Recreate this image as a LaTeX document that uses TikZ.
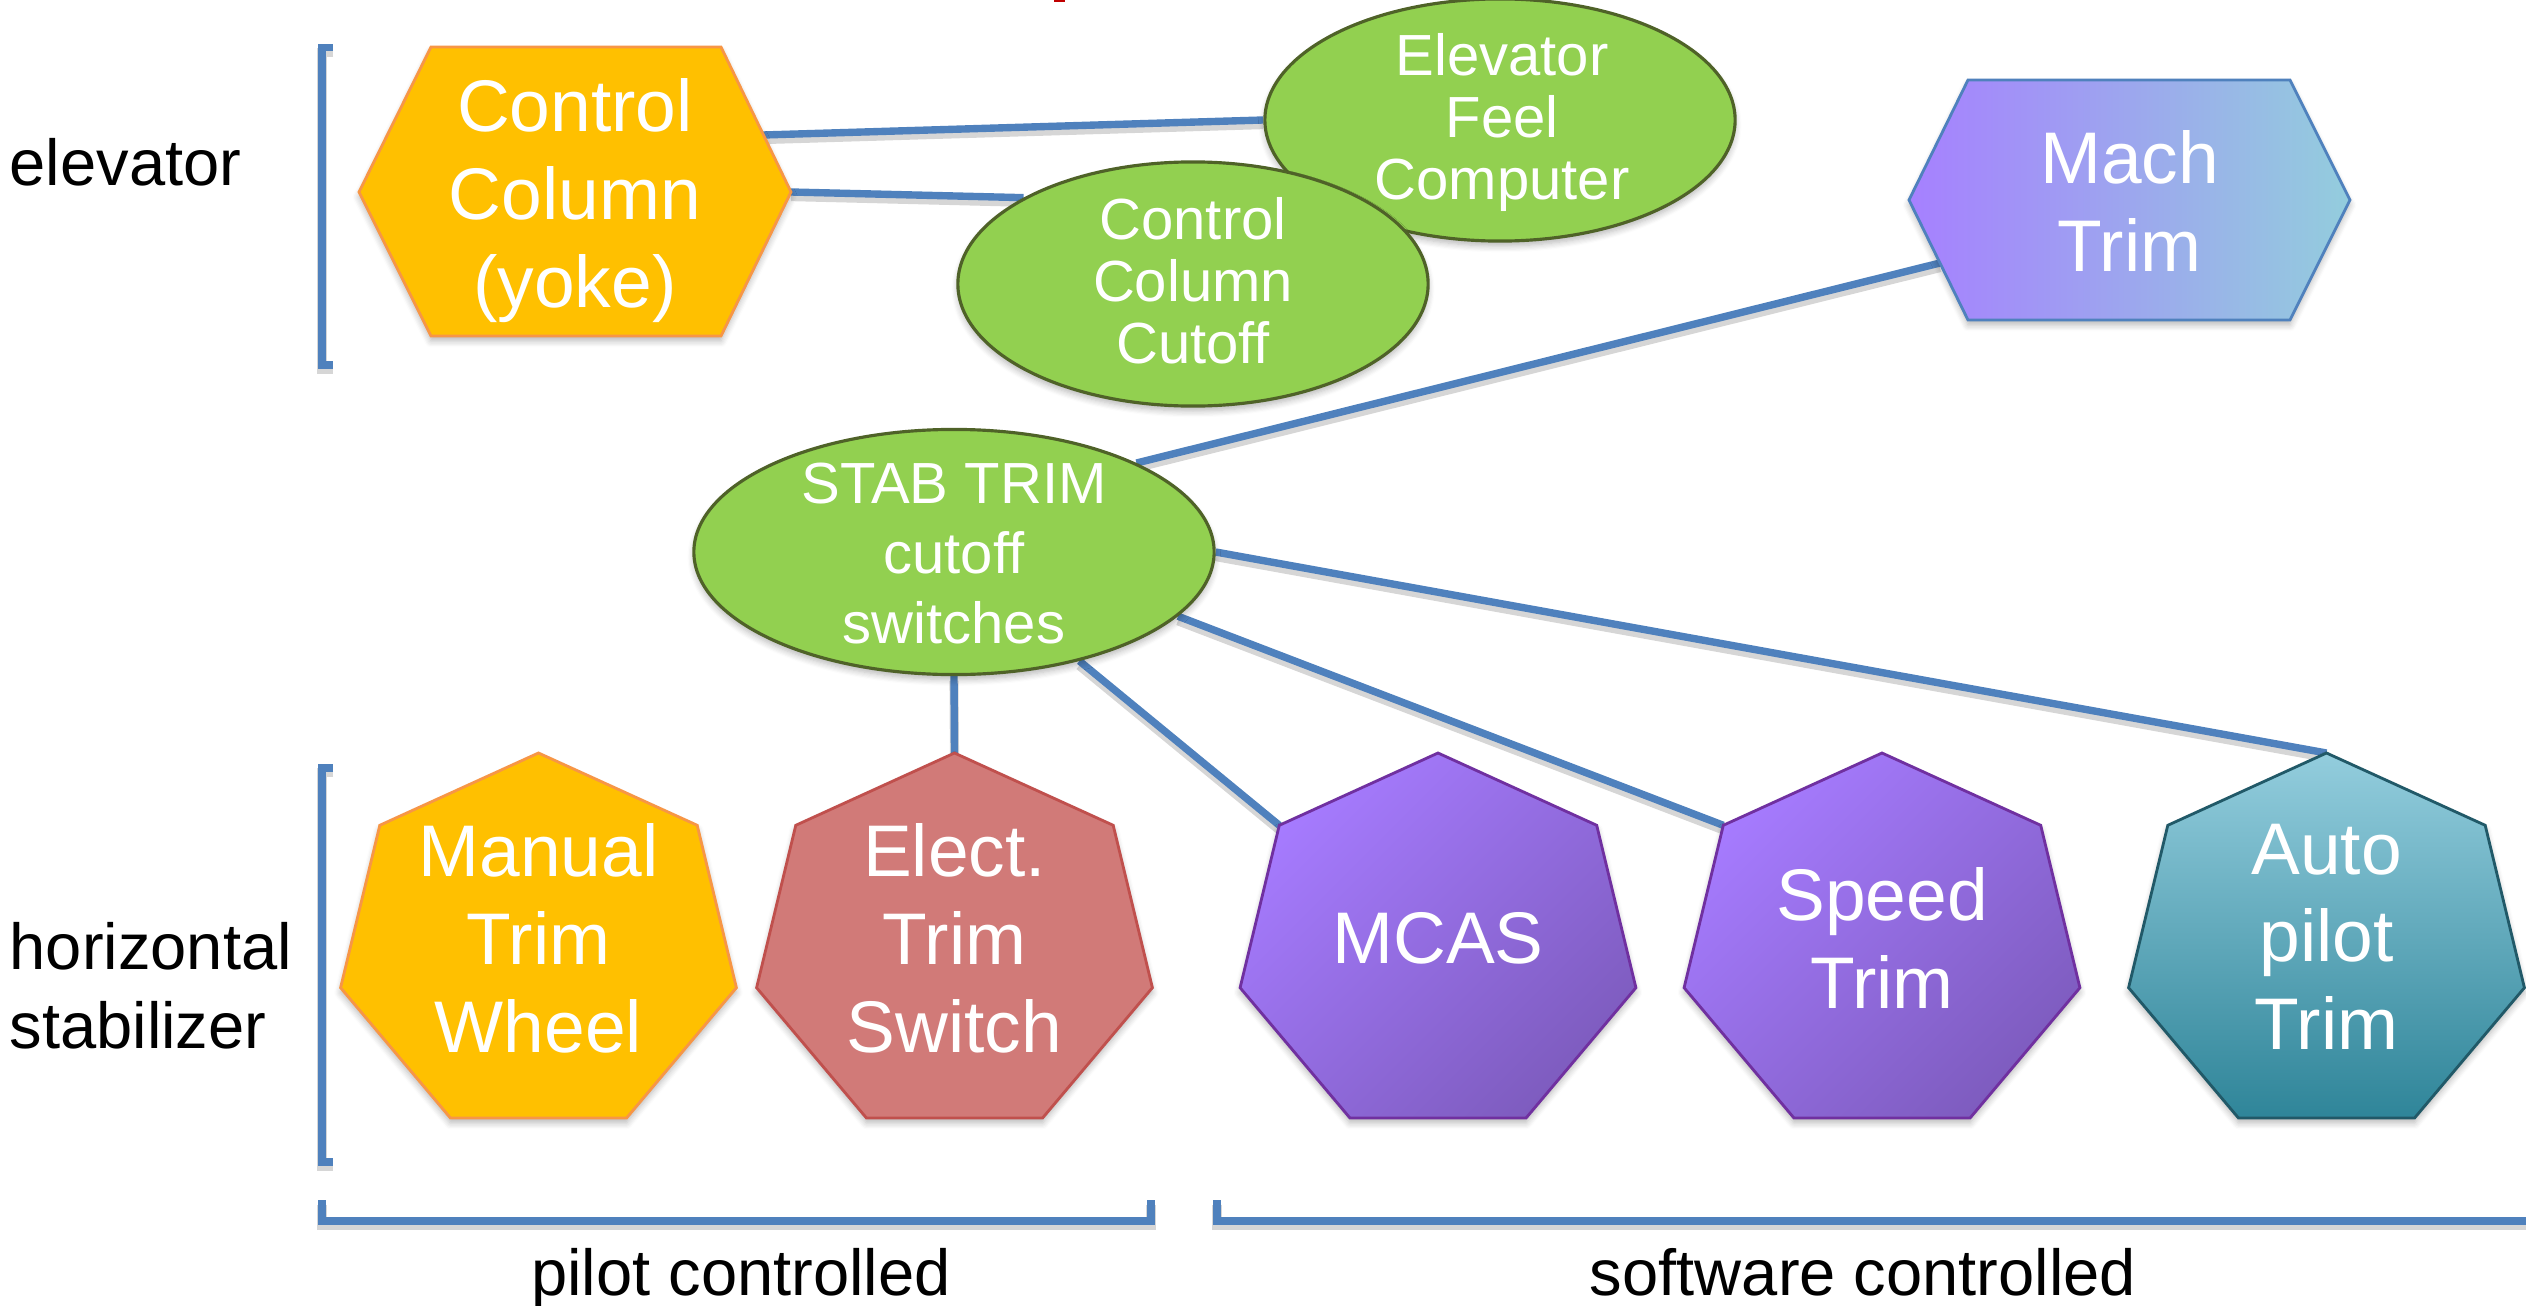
\documentclass[tikz,border=0pt]{standalone}
\usepackage{fontspec}
\setmainfont{Liberation Sans}
\usetikzlibrary{shapes.geometric,shadows.blur}

\definecolor{linkblue}{HTML}{4F81BD}
\definecolor{gold}{HTML}{FFC000}
\definecolor{goldedge}{HTML}{F79646}
\definecolor{rose}{RGB}{209,122,120}
\definecolor{roseedge}{HTML}{C0504D}
\definecolor{leaf}{HTML}{92D050}
\definecolor{leafedge}{HTML}{4F6228}
\definecolor{violetlight}{HTML}{A67BFF}
\definecolor{violetdark}{HTML}{7E5CBF}
\definecolor{violetedge}{HTML}{7030A0}
\definecolor{tealtop}{HTML}{93CDDD}
\definecolor{tealbottom}{HTML}{2F8599}
\definecolor{tealedge}{HTML}{215968}
\definecolor{machleft}{HTML}{A680FF}
\definecolor{machright}{HTML}{93CDDD}
\definecolor{titlered}{HTML}{C00000}

\pgfdeclarelayer{connectors}
\pgfsetlayers{connectors,main}

\tikzset{
  softshadow/.style={blur shadow={shadow xshift=0pt, shadow yshift=-1.4pt,
      shadow blur radius=1.8pt, shadow opacity=28, shadow blur steps=6}},
  lineshadow/.style={preaction={draw=black, opacity=0.16, line width=2.6pt,
      transform canvas={yshift=-1.3pt}}},
  link/.style={draw=linkblue, line width=2.1pt, lineshadow},
  bracket/.style={draw=linkblue, line width=2.1pt, line join=miter, lineshadow},
  shapetext/.style={text=white, font=\fontsize{20.8pt}{25pt}\selectfont,
      align=center, inner sep=0pt, anchor=north},
  bubbletext/.style={text=white, font=\fontsize{16.5pt}{17.6pt}\selectfont,
      align=center, inner sep=0pt, anchor=north},
  bubble/.style={ellipse, fill=leaf, draw=leafedge, line width=0.9pt,
      inner sep=0pt, softshadow},
  sidelabel/.style={font=\fontsize{18.5pt}{22.5pt}\selectfont, align=left,
      inner sep=0pt},
  goldshape/.style={fill=gold, draw=goldedge, line width=0.8pt, softshadow},
  roseshape/.style={fill=rose, draw=roseedge, line width=0.8pt, softshadow},
  violetshape/.style={top color=violetlight, bottom color=violetdark,
      shading angle=45, draw=violetedge, line width=0.8pt, softshadow},
  tealshape/.style={top color=tealtop, bottom color=tealbottom,
      draw=tealedge, line width=0.8pt, softshadow},
  machshape/.style={left color=machleft, right color=machright,
      draw=linkblue, line width=0.8pt, softshadow},
}

% heptagon with its apex up: #1 centre x, #2 style, #3 name prefix
\newcommand{\drawhepta}[3]{%
  \path[#2] (#1,753) \foreach \k in {1,...,6}{
      -- ({#1+203*cos(90+\k*360/7)},{945-192*sin(90+\k*360/7)}) } -- cycle;
  \coordinate (#3-apex) at (#1,753);
  \coordinate (#3-ul) at ({#1+203*cos(90+360/7)},{945-192*sin(90+360/7)});
}

\begin{document}
\begin{tikzpicture}[x=0.01cm, y=-0.01cm]
\useasboundingbox (0,0) rectangle (2526,1306);

% remnant of a heading at the top edge
\fill[titlered] (1054,0) rectangle (1065,2);

% elevator group
\path[goldshape] (359,192) -- (431,47) -- (721,47) -- (791,192)
  -- (721,336) -- (431,336) -- cycle;
\coordinate (cc-ne) at (763,135);
\coordinate (cc-e) at (791,192);
\node[shapetext] (cc-text) at (575,78) {Control\\Column\\(yoke)};

\node[bubble, minimum width=4.7cm, minimum height=2.42cm] (efc) at (1500,120) {};
\node[bubbletext] (efc-text) at (1502,33) {Elevator\\Feel\\Computer};

\node[bubble, minimum width=4.7cm, minimum height=2.44cm] (ccc) at (1193,284) {};
\node[bubbletext] (ccc-text) at (1193,197) {Control\\Column\\Cutoff};

% Mach trim
\path[machshape] (1909,200) -- (1968,80) -- (2290,80) -- (2350,200)
  -- (2290,320) -- (1968,320) -- cycle;
\coordinate (mach-sw) at (1940,263);
\node[shapetext] (mach-text) at (2129.5,130) {Mach\\Trim};

% cutoff switches
\node[bubble, minimum width=5.2cm, minimum height=2.45cm] (stab) at (954,552) {};
\node[bubbletext, font=\fontsize{16.5pt}{19.9pt}\selectfont] (stab-text)
  at (954,462) {STAB TRIM\\cutoff\\switches};

% horizontal stabilizer inputs
\drawhepta{538.5}{goldshape}{manual}
\node[shapetext] (manual-text) at (538.5,823) {Manual\\Trim\\Wheel};
\drawhepta{954.5}{roseshape}{elect}
\node[shapetext] (elect-text) at (954.5,823) {Elect.\\Trim\\Switch};
\drawhepta{1438}{violetshape}{mcas}
\node[shapetext] (mcas-text) at (1438,912) {MCAS};
\drawhepta{1882}{violetshape}{speed}
\node[shapetext] (speed-text) at (1882,867) {Speed\\Trim};
\drawhepta{2326.5}{tealshape}{auto}
\node[shapetext] (auto-text) at (2326.5,823) {Auto\\pilot\\Trim};

% connectors
\begin{pgfonlayer}{connectors}
\draw[link] (cc-ne) -- (efc.west);
\draw[link] (cc-e) -- (ccc.153);
\draw[link] (mach-sw) -- (stab.26);
\draw[link] (stab.south) -- (elect-apex);
\draw[link] (stab.-41) -- (mcas-ul);
\draw[link] (stab.-16) -- (speed-ul);
\draw[link] (stab.east) -- (auto-apex);
\end{pgfonlayer}

% group brackets
\draw[bracket] (333,47.5) -- (322,47.5) -- (322,365) -- (333,365);
\draw[bracket] (333,768) -- (322,768) -- (322,1162) -- (333,1162);
\draw[bracket] (322,1200) -- (322,1221) -- (1151,1221) -- (1151,1200);
\draw[bracket] (1217,1200) -- (1217,1221) -- (2540,1221);

% group labels
\node[sidelabel, anchor=base west] (lbl-elev) at (9,185) {elevator};
\node[sidelabel, anchor=north west] (lbl-hstab) at (9,922) {horizontal\\stabilizer};
\node[sidelabel, anchor=base] (lbl-pilot) at (741,1295) {pilot controlled};
\node[sidelabel, anchor=base] (lbl-soft) at (1863,1295) {software controlled};
\end{tikzpicture}
\end{document}
